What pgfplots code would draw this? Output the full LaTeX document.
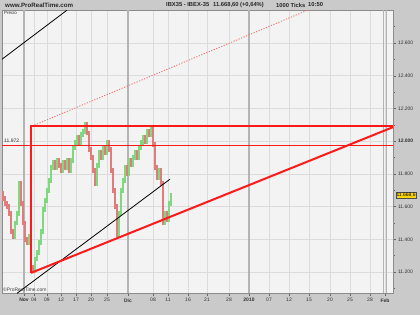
\documentclass[border=0pt]{standalone}
\usepackage{pgfplots}
\pgfplotsset{compat=1.18}
\usepackage{pgfplotstable}
\usepackage{fontspec}
\setmainfont{Liberation Sans}
\definecolor{bgout}{HTML}{CACACA}
\definecolor{bgin}{HTML}{F3F3F3}
\definecolor{gridc}{HTML}{DCDCDC}
\definecolor{monthc}{HTML}{B4B4B4}
\definecolor{upc}{HTML}{80D880}
\definecolor{dnc}{HTML}{E07C7C}
\definecolor{prtred}{HTML}{FF1A1A}
\definecolor{dotred}{HTML}{F26A6A}
\definecolor{boxy}{HTML}{FFD700}

% bars: x, mid, half-range
\pgfplotstableread{
x y e
15 11460 55
17 11530 45
19 11650 105
29 11400 35
35 11245 50
37 11300 35
39 11350 45
41 11415 50
43 11515 80
45 11610 45
47 11670 45
49 11730 45
51 11800 55
53 11855 30
57 11860 35
63 11845 40
67 11860 35
71 11850 45
73 11920 55
75 11975 30
77 12005 30
81 12015 40
83 12050 25
85 12080 35
97 11795 70
99 11890 55
103 11930 45
107 11960 45
119 11495 80
121 11630 85
123 11730 45
125 11800 55
129 11840 55
133 11880 35
135 11915 30
139 11930 45
141 11975 30
143 12005 30
147 12030 45
151 12060 35
159 11800 35
165 11530 45
169 11570 65
171 11644 40
}\upbars
\pgfplotstableread{
x y e
3 11665 30
5 11635 30
7 11610 25
9 11580 35
11 11505 70
13 11435 30
21 11680 75
23 11560 75
25 11450 65
27 11390 25
31 11325 110
33 11220 25
55 11855 30
59 11865 30
61 11835 30
65 11855 30
69 11850 45
79 12005 30
87 12075 40
89 12000 65
91 11925 40
93 11860 55
95 11780 55
101 11915 30
105 11945 30
109 11970 35
111 11885 80
113 11760 75
115 11650 65
117 11515 100
127 11820 35
131 11870 25
137 11915 30
145 12010 25
149 12050 25
153 12030 65
155 11910 85
157 11810 45
161 11780 55
163 11620 135
167 11540 35
}\dnbars

\begin{document}
\begin{tikzpicture}[x=1bp,y=1bp]
\fill[bgout] (0,0) rectangle (420,315);
\begin{axis}[
  at={(2bp,22bp)}, anchor=south west,
  scale only axis, width=391bp, height=283bp,
  xmin=2, xmax=393, ymin=11072, ymax=12802,
  scaled y ticks=false, scaled x ticks=false,
  axis background/.style={fill=bgin},
  axis line style={draw=black!45, line width=0.8bp},
  grid=major,
  major grid style={draw=gridc, line width=0.6bp},
  tick align=outside,
  xtick pos=bottom, ytick pos=right, yticklabel pos=right,
  major tick length=3bp, minor tick length=2bp,
  every tick/.style={draw=black!60, line width=0.5bp},
  xtick={24,34,47,61,76,91,107,128,153,168,188,207,229,249,269,289,309,330,350,370,385},
  xticklabels={\textbf{Nov},04,09,12,17,20,25,\textbf{Dic},08,11,16,21,28,\textbf{2010},07,12,15,20,25,28,\textbf{Feb}},
  ytick={11200,11400,11600,11800,12000,12200,12400,12600},
  yticklabels={11.200,11.400,11.600,11.800,\textbf{12.000},12.200,12.400,12.600},
  minor ytick={11100,11300,11500,11700,11900,12100,12300,12500,12700},
  xticklabel style={font=\fontsize{5}{6}\selectfont, text=black!80, yshift=1bp},
  yticklabel style={font=\fontsize{5}{6}\selectfont, text=black!80, xshift=-1.5bp},
  clip=true,
]
% month separators
\addplot[monthc, line width=1.3bp] coordinates {(24,11072) (24,12802)};
\addplot[monthc, line width=1.3bp] coordinates {(128,11072) (128,12802)};
\addplot[monthc, line width=1.3bp] coordinates {(249,11072) (249,12802)};
\addplot[monthc, line width=1bp] coordinates {(383,11072) (383,12802)};
\addplot[monthc, line width=1bp] coordinates {(386,11072) (386,12802)};
% price bars
\addplot[draw=none, mark=none, error bars/.cd, y dir=both, y explicit, error mark=none,
  error bar style={draw=upc, line width=1.2bp}] table[x=x, y=y, y error=e] {\upbars};
\addplot[draw=none, mark=none, error bars/.cd, y dir=both, y explicit, error mark=none,
  error bar style={draw=dnc, line width=1.2bp}] table[x=x, y=y, y error=e] {\dnbars};
% trend lines
\addplot[black, line width=0.8bp] coordinates {(2,12501) (67,12801)};
\addplot[black, line width=0.8bp] coordinates {(17,11070) (170,11768)};
\addplot[dotred, line width=0.8bp, dash pattern=on 1.2bp off 1.5bp] coordinates {(32,12092) (308,12802)};
\addplot[prtred, line width=0.8bp] coordinates {(2,11972) (393,11972)};
\addplot[prtred, line width=2bp] coordinates {(31,11195) (31,12092) (393,12092)};
\addplot[prtred, line width=2bp] coordinates {(31,11195) (393,12086)};
\end{axis}
% header
\node[anchor=west, font=\fontsize{6.2}{7}\selectfont\bfseries, text=black!85, inner sep=0pt] at (5,310) {www.ProRealTime.com};
\node[anchor=west, font=\fontsize{5.8}{7}\selectfont\bfseries, text=black!85, inner sep=0pt] at (166,310) {IBX35 - IBEX-35};
\node[anchor=west, font=\fontsize{5.8}{7}\selectfont\bfseries, text=black!85, inner sep=0pt] at (213,310) {11.668,60 (+0,64\%)};
\node[anchor=west, font=\fontsize{5.8}{7}\selectfont\bfseries, text=black!85, inner sep=0pt] at (276,310) {1000 Ticks};
\node[anchor=west, font=\fontsize{5.8}{7}\selectfont\bfseries, text=black!85, inner sep=0pt] at (308,310) {10:50};
% in-plot labels
\node[anchor=west, font=\fontsize{4.5}{5}\selectfont, text=black!80, inner sep=0pt] at (4,302) {Precio};
\node[anchor=west, font=\fontsize{5}{6}\selectfont, text=black!80, inner sep=0pt] at (4,174) {11.972};
\node[anchor=west, font=\fontsize{5}{6}\selectfont, text=black!75, inner sep=0pt] at (3,25.5) {©ProRealTime.com};
% current price box
\node[anchor=west, fill=boxy, draw=black!70, line width=0.4bp, font=\fontsize{5}{6}\selectfont, inner sep=0.8bp] at (395.5,120) {11.668,6};
\pgfresetboundingbox
\useasboundingbox (0,0) rectangle (420,315);
\end{tikzpicture}
\end{document}
